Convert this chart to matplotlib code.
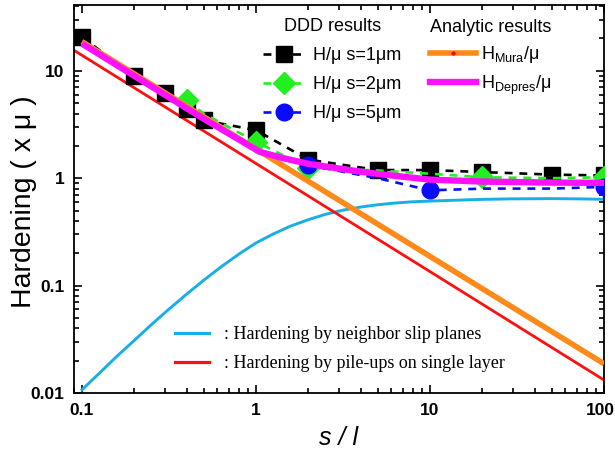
import matplotlib
matplotlib.use('Agg')
from matplotlib import pyplot as plt
from matplotlib.lines import Line2D
from matplotlib.transforms import ScaledTranslation

plt.rcParams['font.family'] = ['Liberation Sans', 'DejaVu Sans']

# DDD results, s = 1 um
x_s1 = [0.1, 0.2, 0.3, 0.4, 0.5, 1, 2, 5, 10, 20, 50, 100]
h_s1 = [20.6, 8.9, 6.2, 4.45, 3.46, 2.8, 1.49, 1.19, 1.19, 1.14, 1.08, 1.06]

# DDD results, s = 2 um (markers only on some points)
x_s2 = [0.4, 0.5, 1, 2, 5, 10, 20, 50, 100]
h_s2 = [5.3, 4.0, 2.18, 1.25, 1.18, 1.1, 1.02, 1.0, 1.02]
mark_s2 = [0, 2, 3, 6, 8]

# DDD results, s = 5 um
x_s5 = [2, 5, 10, 20, 50, 100]
h_s5 = [1.32, 1.0, 0.77, 0.8, 0.8, 0.83]
mark_s5 = [0, 2, 5]

# analytic curves
x_mura = [0.1, 1, 10, 100]
h_mura = [18.7, 1.87, 0.187, 0.0187]

x_depres = [0.1, 0.2, 0.5, 1.05, 1.4, 2, 2.8, 4, 5.4, 10, 20, 50, 100]
h_depres = [17.9, 8.95, 3.58, 1.76, 1.55, 1.36, 1.25, 1.15, 1.08, 0.97, 0.93, 0.91, 0.905]

x_neigh = [0.1, 0.126, 0.158, 0.2, 0.251, 0.316, 0.398, 0.501, 0.631, 0.794,
           1, 1.26, 1.58, 2, 2.51, 3.16, 3.98, 5.01, 6.31, 7.94,
           10, 15, 20, 30, 50, 70, 100]
h_neigh = [0.0107, 0.0153, 0.0218, 0.0309, 0.0434, 0.0603, 0.0828, 0.1122, 0.1496, 0.1954,
           0.2495, 0.303, 0.358, 0.411, 0.461, 0.504, 0.538, 0.566, 0.587, 0.603,
           0.612, 0.626, 0.635, 0.642, 0.645, 0.642, 0.636]

x_pile = [0.09, 1, 10, 100]
h_pile = [15.5, 1.37, 0.135, 0.0132]

xticks = [0.1, 1, 10, 100]
xtick_labels = ['0.1', '1', '10', '100']
yticks = [0.01, 0.1, 1, 10]
ytick_labels = ['0.01', '0.1', '1', '10']

c_cyan = '#1aaee6'
c_red = '#ff1010'
c_orange = '#ff8a1a'
c_magenta = '#ff10ff'
c_green = '#22ee22'
c_blue = '#0a0aff'

fig = plt.figure(figsize=(6.15, 4.53), dpi=100)
ax = fig.add_axes([0.1203, 0.1325, 0.8618, 0.8565])

ax.plot(x_neigh, h_neigh, color=c_cyan, lw=2.1, zorder=2)
ax.plot(x_pile, h_pile, color=c_red, lw=2.0, zorder=2)

l1, = ax.plot(x_s1, h_s1, color='black', ls=(0, (3, 2.6)), lw=1.9,
              marker='s', ms=11, mfc='black', mec='black', zorder=3)
l2, = ax.plot(x_s2, h_s2, color=c_green, ls=(0, (3, 2.6)), lw=1.9,
              marker='D', ms=11, mfc=c_green, mec=c_green, markevery=mark_s2, zorder=4)
l3, = ax.plot(x_s5, h_s5, color=c_blue, ls=(0, (3, 2.6)), lw=1.9,
              marker='o', ms=12, mfc=c_blue, mec=c_blue, markevery=mark_s5, zorder=5)

ax.plot(x_mura, h_mura, color=c_orange, lw=4.0, solid_capstyle='butt', zorder=6)
l5, = ax.plot(x_depres, h_depres, color=c_magenta, lw=4.6, solid_capstyle='butt',
              solid_joinstyle='round', zorder=7)

ax.set_xscale('log')
ax.set_yscale('log')
ax.set_xlim(0.09, 100)
ax.set_ylim(0.01, 41)

ax.set_xticks(xticks)
ax.set_xticklabels(xtick_labels)
ax.set_yticks(yticks)
ax.set_yticklabels(ytick_labels)
ax.tick_params(which='both', direction='in', top=True, right=True, width=1.2)
ax.tick_params(which='major', length=6, labelsize=12.5, pad=7)
ax.tick_params(which='minor', length=3.5)
for lab in ax.get_xticklabels() + ax.get_yticklabels():
    lab.set_fontweight('bold')
# keep the last x label inside the figure
last = ax.get_xticklabels()[-1]
last.set_transform(last.get_transform() + ScaledTranslation(-4 / 100, 0, fig.dpi_scale_trans))
for sp in ax.spines.values():
    sp.set_linewidth(1.3)

ax.set_ylabel('Hardening ( x μ )', fontsize=20.5)
ax.yaxis.set_label_coords(-0.07, 0.492)
ax.set_xlabel('s / l', fontsize=18, style='italic', labelpad=6)

# legend for DDD data
leg1 = ax.legend([l1, l2, l3],
                 ['H/μ s=1μm', 'H/μ s=2μm', 'H/μ s=5μm'],
                 title='DDD results', loc='upper left', bbox_to_anchor=(0.357, 0.966),
                 frameon=False, fontsize=13, title_fontsize=13, handlelength=2.3,
                 handletextpad=0.45, labelspacing=0.67, borderpad=0, borderaxespad=0)
ax.add_artist(leg1)

# legend for analytic curves
mura_handle = Line2D([], [], color=c_orange, lw=4.0, marker='o', ms=2,
                     mfc='red', mec='red')
depres_handle = Line2D([], [], color=c_magenta, lw=4.6)
leg2 = ax.legend([mura_handle, depres_handle],
                 [r'H$_{\mathregular{Mura}}$/μ', r'H$_{\mathregular{Depres}}$/μ'],
                 title='Analytic results', loc='upper left', bbox_to_anchor=(0.672, 0.963),
                 frameon=False, fontsize=13, title_fontsize=13, handlelength=2.5,
                 handletextpad=0.3, labelspacing=0.45, borderpad=0, borderaxespad=0)
ax.add_artist(leg2)

# legend for the two hardening contributions
cyan_handle = Line2D([], [], color=c_cyan, lw=2.3)
red_handle = Line2D([], [], color=c_red, lw=2.3)
ax.legend([cyan_handle, red_handle],
          [': Hardening by neighbor slip planes', ': Hardening by pile-ups on single layer'],
          loc='upper left', bbox_to_anchor=(0.19, 0.172), frameon=False,
          prop={'family': 'Liberation Serif', 'size': 13}, handlelength=1.9,
          handletextpad=0.85, labelspacing=0.67, borderpad=0, borderaxespad=0)

plt.savefig('out.png', dpi=100)
